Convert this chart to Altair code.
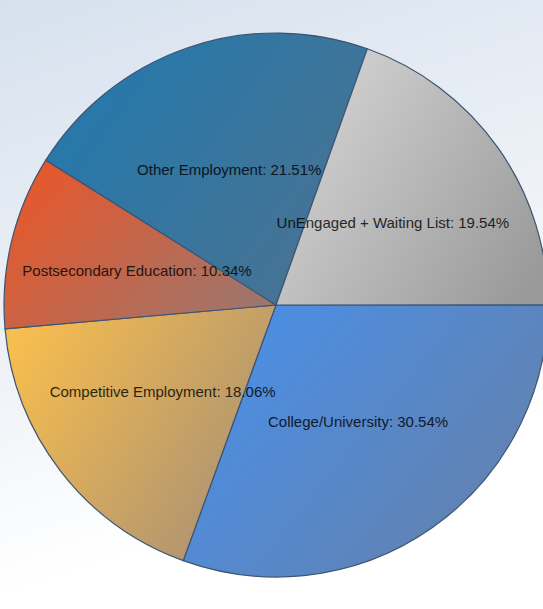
import math
import altair as alt
import pandas as pd

# ---- data ----
categories = ["College/University", "Competitive Employment", "Postsecondary Education",
              "Other Employment", "UnEngaged + Waiting List"]
values = [30.54, 18.06, 10.34, 21.51, 19.54]
light_colors = ["#4a8fe8", "#f7bd4e", "#e8572a", "#2279ad", "#d6d6d6"]
dark_colors = ["#6580a8", "#a68f76", "#9c766e", "#4b7291", "#9a9a9a"]

df = pd.DataFrame({
    "cat": categories,
    "value": values,
    "order": list(range(len(categories))),
})
df["label"] = [f"{c}: {v:.2f}%" for c, v in zip(categories, values)]

W, H = 543, 609
CX, CY, R = 276, 305, 272

theta_scale = alt.Scale(domain=[0, 100], range=[math.pi / 2, math.pi / 2 + 2 * math.pi])

base = (
    alt.Chart(df)
    .transform_window(end="sum(value)", sort=[alt.SortField("order")], frame=[None, 0])
    .transform_calculate(start="datum.end - datum.value", mid="datum.end - datum.value / 2")
)

bg = alt.Chart(pd.DataFrame({"a": [0]})).mark_rect(
    fill=alt.LinearGradient(
        gradient="linear",
        stops=[alt.GradientStop(color="#d6e1ee", offset=0),
               alt.GradientStop(color="#eef2f7", offset=0.55),
               alt.GradientStop(color="#ffffff", offset=0.9)],
        x1=0, y1=0, x2=0.3, y2=1,
    )
).encode(x=alt.value(0), x2=alt.value(W), y=alt.value(0), y2=alt.value(H))

arcs = []
for i, c in enumerate(categories):
    arcs.append(
        base.transform_filter(alt.datum.cat == c)
        .mark_arc(
            radius=R,
            fill=alt.LinearGradient(
                gradient="linear",
                stops=[alt.GradientStop(color=light_colors[i], offset=0),
                       alt.GradientStop(color=dark_colors[i], offset=1)],
                x1=0, y1=0.2, x2=1, y2=0.8,
            ),
            stroke="#3d5573",
            strokeWidth=1.2,
        )
        .encode(
            theta=alt.Theta("start:Q", scale=theta_scale, stack=None),
            theta2="end:Q",
            x=alt.value(CX),
            y=alt.value(CY),
        )
    )

text = base.mark_text(
    radius=143, font="Liberation Sans", fontSize=15, color="#000000", opacity=0.8,
    align="center", baseline="middle"
).encode(
    theta=alt.Theta("mid:Q", scale=theta_scale, stack=None),
    text="label:N",
    x=alt.value(CX),
    y=alt.value(CY),
)

chart = (
    alt.layer(bg, *arcs, text)
    .properties(width=W, height=H, padding=0, autosize="none", background="#ffffff")
    .configure_view(stroke=None)
)

chart.save("out.html", embed_options={"renderer": "svg", "actions": False})
